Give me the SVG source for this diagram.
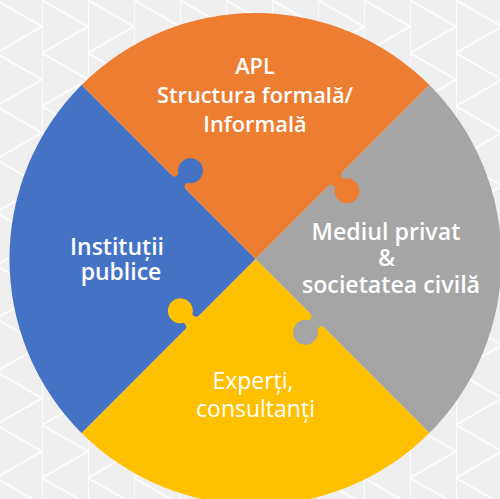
<svg xmlns="http://www.w3.org/2000/svg" width="500" height="499" viewBox="0 0 500 499">
<defs>
<style>
.lbl{font-family:"Open Sans","Noto Sans","Liberation Sans",sans-serif;fill:#ffffff;text-anchor:middle;font-weight:600}
.s1{font-size:21.8px}
.s2{font-size:23.2px}
.s3{font-size:23px}
.reg{font-weight:400}
.or{fill:#ED7D31}.bl{fill:#4472C4}.gr{fill:#A5A5A5}.ye{fill:#FFC000}
</style>
<pattern id="tri" width="46" height="53.1" patternUnits="userSpaceOnUse" x="42" y="0">
<rect width="46" height="53.1" fill="#efefef"/>
<path d="M0,0 V53.1 M0,0 L46,26.55 M0,53.1 L46,26.55" stroke="#ffffff" stroke-width="1.6" fill="none"/>
</pattern>
<path id="knob" d="M-10,-1.5 L-10,0 Q-6,0 -6,4 L-6,5.5 A12.5 12.5 0 1 0 6,5.5 L6,4 Q6,0 10,0 L10,-1.5 Z"/>
</defs>
<rect width="500" height="499" fill="url(#tri)"/>
<g id="apl">
<path class="or" d="M255.5,259 L81.55,85.05 A246,246 0 0 1 429.45,85.05 Z"/>
</g>
<g id="mediu">
<path class="gr" d="M255.5,259 L429.45,85.05 A246,246 0 0 1 429.45,432.95 Z"/>
</g>
<g id="experti">
<path class="ye" d="M255.5,259 L429.45,432.95 A246,246 0 0 1 81.55,432.95 Z"/>
</g>
<g id="institutii">
<path class="bl" d="M255.5,259 L81.55,432.95 A246,246 0 0 1 81.55,85.05 Z"/>
</g>
<g id="knobs">
<use href="#knob" class="or" transform="translate(335.3,179.2) rotate(-45)"/>
<use href="#knob" class="gr" transform="translate(317.2,320.7) rotate(45)"/>
<use href="#knob" class="ye" transform="translate(192,322.5) rotate(135)"/>
<use href="#knob" class="bl" transform="translate(178.8,182.3) rotate(225)"/>
</g>
<g id="labels">
<text class="lbl s1" x="255" y="74">APL<tspan x="255" y="103">Structura formală/</tspan><tspan x="255" y="131.5">Informală</tspan></text>
<text class="lbl s2" x="386" y="239.5">Mediul privat<tspan x="386.5" y="266">&amp;</tspan><tspan x="391" y="293">societatea civilă</tspan></text>
<text class="lbl s3 reg" x="253" y="388.5">Experți,<tspan x="255.5" y="416.5">consultanți</tspan></text>
<text class="lbl s3" x="117" y="254.5">Instituții<tspan x="121" y="280">publice</tspan></text>
</g>
</svg>
